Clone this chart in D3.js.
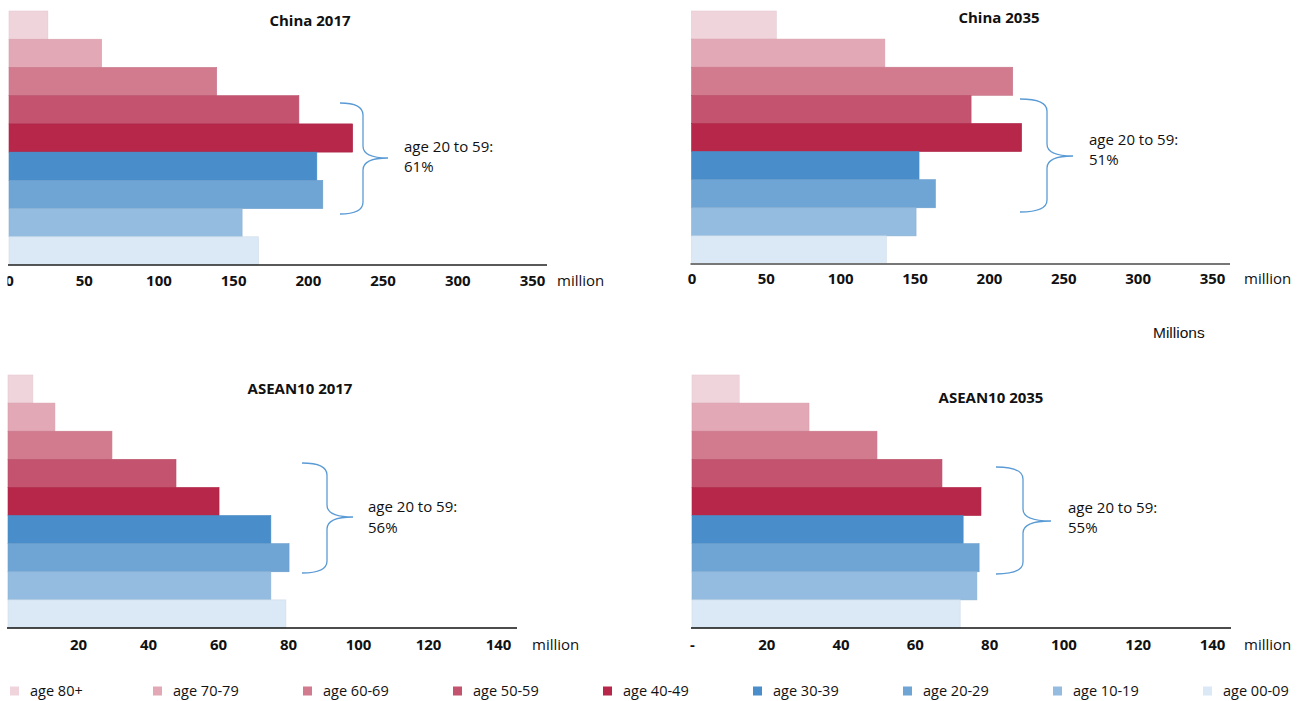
<!DOCTYPE html>
<html>
<head>
<meta charset="utf-8">
<script src="https://cdn.jsdelivr.net/npm/d3@7"></script>
<style>
  html, body { margin: 0; padding: 0; background: #fff; }
  svg { display: block; }
  text { font-family: "Open Sans", "Noto Sans", sans-serif; fill: #111; }
</style>
</head>
<body>
<svg id="chart" width="1305" height="701"></svg>
<script>
// ---------- data ----------
const ageGroups = ["age 80+", "age 70-79", "age 60-69", "age 50-59", "age 40-49",
                   "age 30-39", "age 20-29", "age 10-19", "age 00-09"];
const ageColors = ["#f0d4dc", "#e3a8b5", "#d27b8f", "#c4536f", "#b6274a",
                   "#498ecb", "#6fa5d5", "#93bce0", "#dbe8f5"];

const china2017 = [26, 62, 139, 194, 230, 206, 210, 156, 167];
const china2035 = [57, 130, 216, 188, 222, 153, 164, 151, 131];
const asean2017 = [7.1, 13.4, 29.7, 48, 60.3, 75.1, 80.3, 75.1, 79.4];
const asean2035 = [12.7, 31.5, 49.8, 67.3, 77.8, 73, 77.3, 76.7, 72.2];

const panelTitles = ["China 2017", "China 2035", "ASEAN10 2017", "ASEAN10 2035"];
const workingShare = ["61%", "51%", "56%", "55%"];
const braceLabel = "age 20 to 59:";

const chinaTicks = [0, 50, 100, 150, 200, 250, 300, 350];
const chinaTickLabels = ["0", "50", "100", "150", "200", "250", "300", "350"];
const aseanTicks = [0, 20, 40, 60, 80, 100, 120, 140];
const asean2017TickLabels = ["", "20", "40", "60", "80", "100", "120", "140"];
const asean2035TickLabels = ["-", "20", "40", "60", "80", "100", "120", "140"];
const unitLabel = "million";
const cornerNote = "Millions";

// ---------- layout ----------
const panels = [
  { values: china2017, title: panelTitles[0], share: workingShare[0],
    ticks: chinaTicks, labels: chinaTickLabels, max: 350,
    x0: 9, x1: 532, axisEnd: 547, yTop: 11, yBot: 265, axisColor: "#222", axisW: 1.5,
    titleX: 310, titleY: 26, labelY: 286, unitX: 557,
    brace: { xl: 340, xs: 363, xt: 388, y0: 103, y1: 214, ym: 158 },
    text: { x: 404, y1: 152, y2: 172 } },
  { values: china2035, title: panelTitles[1], share: workingShare[1],
    ticks: chinaTicks, labels: chinaTickLabels, max: 350,
    x0: 691.5, x1: 1212, axisEnd: 1230, yTop: 11, yBot: 264, axisColor: "#777", axisW: 2,
    titleX: 999, titleY: 23, labelY: 284, unitX: 1244,
    brace: { xl: 1020, xs: 1047, xt: 1073, y0: 99, y1: 212, ym: 156 },
    text: { x: 1089, y1: 145, y2: 165 } },
  { values: asean2017, title: panelTitles[2], share: workingShare[2],
    ticks: aseanTicks, labels: asean2017TickLabels, max: 140,
    x0: 8, x1: 498, axisEnd: 517, yTop: 375, yBot: 628, axisColor: "#111", axisW: 1.5,
    titleX: 300, titleY: 394, labelY: 650, unitX: 532,
    brace: { xl: 302, xs: 327, xt: 353, y0: 463, y1: 573, ym: 517 },
    text: { x: 368, y1: 512, y2: 533 } },
  { values: asean2035, title: panelTitles[3], share: workingShare[3],
    ticks: aseanTicks, labels: asean2035TickLabels, max: 140,
    x0: 692, x1: 1212, axisEnd: 1231, yTop: 375, yBot: 628, axisColor: "#111", axisW: 1.5,
    titleX: 991, titleY: 403, labelY: 650, unitX: 1244,
    brace: { xl: 996, xs: 1023, xt: 1051, y0: 467, y1: 574, ym: 521 },
    text: { x: 1068, y1: 513, y2: 533 } }
];

const svg = d3.select("#chart");

svg.append("defs").append("clipPath").attr("id", "leftClip")
  .append("rect").attr("x", 7.5).attr("y", 0).attr("width", 1305).attr("height", 701);

panels.forEach((p, pi) => {
  const g = svg.append("g").attr("clip-path", pi === 0 ? "url(#leftClip)" : null);
  const x = d3.scaleLinear().domain([0, p.max]).range([p.x0, p.x1]);
  const y = d3.scaleBand().domain(ageGroups).range([p.yTop, p.yBot]).padding(0);

  // bars
  g.selectAll("rect.bar").data(p.values).join("rect")
    .attr("class", "bar")
    .attr("x", x(0))
    .attr("y", (d, i) => y(ageGroups[i]))
    .attr("width", d => x(d) - x(0))
    .attr("height", y.bandwidth())
    .attr("fill", (d, i) => ageColors[i])
    .attr("stroke", (d, i) => d3.color(ageColors[i]).darker(0.15))
    .attr("stroke-width", 0.6);

  // axis line
  g.append("line")
    .attr("x1", x(0) - 1).attr("x2", p.axisEnd)
    .attr("y1", p.yBot).attr("y2", p.yBot)
    .attr("stroke", p.axisColor).attr("stroke-width", p.axisW);

  // tick labels via d3 axis
  const axis = d3.axisBottom(x)
    .tickValues(p.ticks)
    .tickSize(0)
    .tickPadding(0)
    .tickFormat((d, i) => p.labels[i]);
  const ag = g.append("g").attr("transform", `translate(0,${p.labelY})`).call(axis);
  ag.select(".domain").remove();
  ag.selectAll("text")
    .attr("dy", 0)
    .attr("y", 0)
    .style("font-family", '"Open Sans", sans-serif')
    .style("font-size", "15px")
    .style("font-weight", "700")
    .attr("fill", "#111");

  // unit label
  g.append("text").attr("x", p.unitX).attr("y", p.labelY)
    .style("font-size", "15px").text(unitLabel);

  // title
  g.append("text").attr("x", p.titleX).attr("y", p.titleY)
    .attr("text-anchor", "middle")
    .style("font-size", "15px").style("font-weight", "700")
    .text(p.title);

  // brace
  const b = p.brace, k = 12;
  const path = `M${b.xl},${b.y0} Q${b.xs},${b.y0} ${b.xs},${b.y0 + k}
    L${b.xs},${b.ym - k} Q${b.xs},${b.ym} ${b.xt},${b.ym}
    Q${b.xs},${b.ym} ${b.xs},${b.ym + k}
    L${b.xs},${b.y1 - k} Q${b.xs},${b.y1} ${b.xl},${b.y1}`;
  g.append("path").attr("d", path)
    .attr("fill", "none").attr("stroke", "#5b9bd5").attr("stroke-width", 1.3);

  g.append("text").attr("x", p.text.x).attr("y", p.text.y1)
    .style("font-size", "15px").text(braceLabel);
  g.append("text").attr("x", p.text.x).attr("y", p.text.y2)
    .style("font-size", "15px").text(p.share);
});

// corner note
svg.append("text").attr("x", 1153).attr("y", 338)
  .style("font-family", '"Liberation Sans", Arial, sans-serif')
  .style("font-size", "15.5px").text(cornerNote);

// legend
const legendX = i => (i === 0 ? 10 : 3 + 150 * i);
const lg = svg.append("g").selectAll("g").data(ageGroups).join("g")
  .attr("transform", (d, i) => `translate(${legendX(i)},691)`);
lg.append("rect").attr("x", 0).attr("y", -4.5).attr("width", 9).attr("height", 9)
  .attr("fill", (d, i) => ageColors[i]);
lg.append("text").attr("x", 20).attr("y", 5)
  .style("font-size", "14.5px").text(d => d);
</script>
</body>
</html>
